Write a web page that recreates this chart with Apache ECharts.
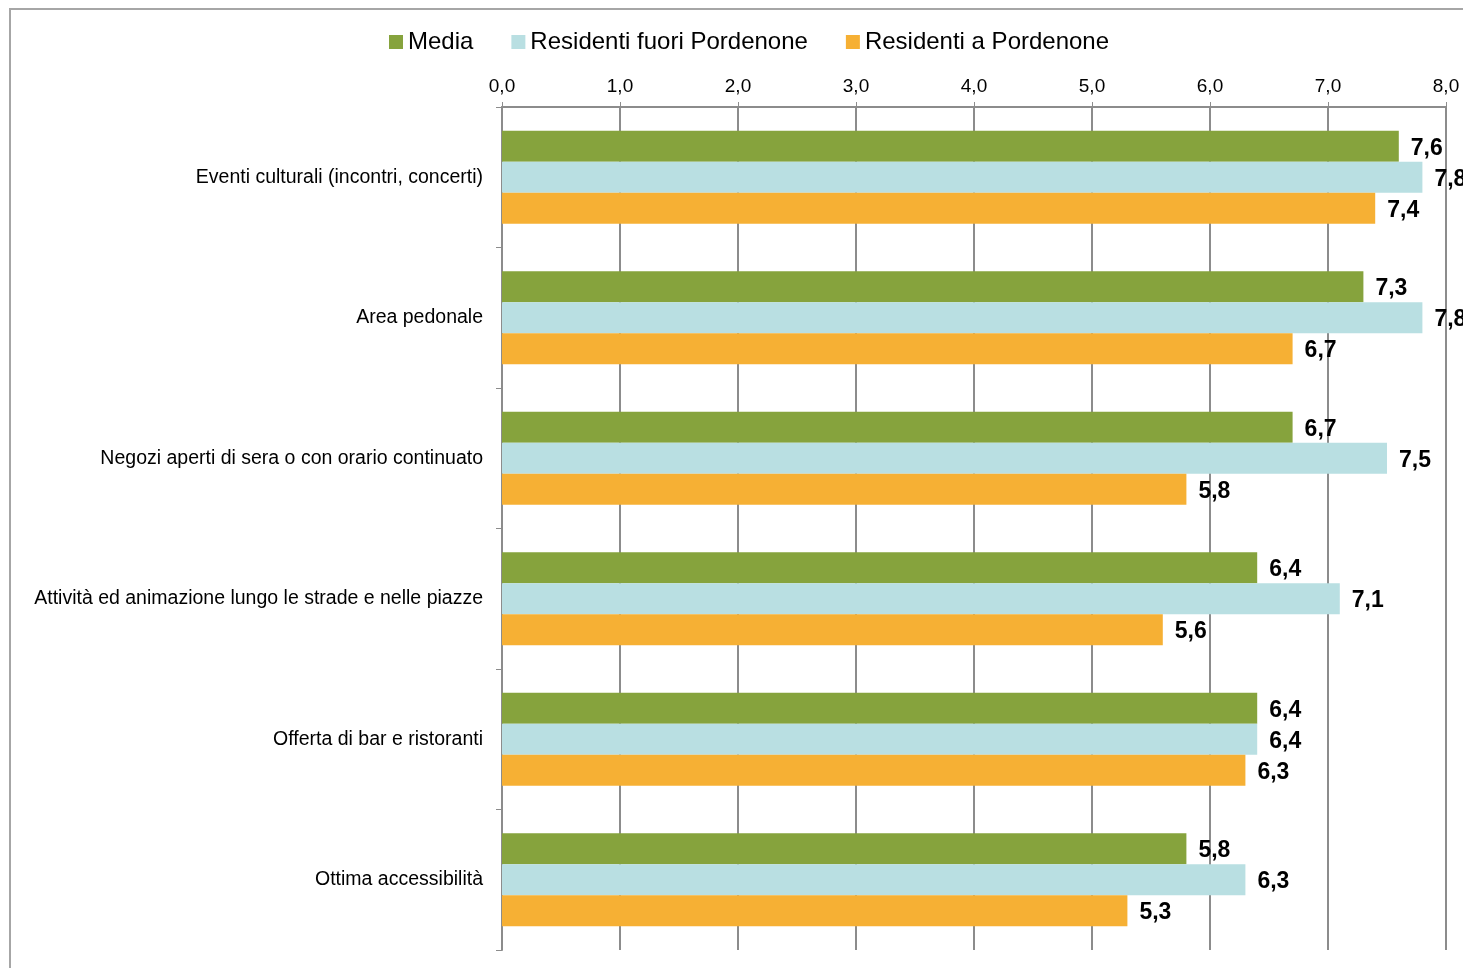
<!DOCTYPE html>
<html>
<head>
<meta charset="utf-8">
<script src="https://cdn.jsdelivr.net/npm/echarts@6/dist/echarts.min.js"></script>
<style>
  html, body { margin: 0; padding: 0; background: #fff; }
  #chart { width: 1463px; height: 968px; }
</style>
</head>
<body>
<div id="chart"></div>
<script>
// Categories, top to bottom
const categories = [
  'Eventi culturali (incontri, concerti)',
  'Area pedonale',
  'Negozi aperti di sera o con orario continuato',
  'Attività ed animazione lungo le strade e nelle piazze',
  'Offerta di bar e ristoranti',
  'Ottima accessibilità'
];

const seriesNames = ['Media', 'Residenti fuori Pordenone', 'Residenti a Pordenone'];

// Scores per category
const media = [7.6, 7.3, 6.7, 6.4, 6.4, 5.8];
const fuoriPordenone = [7.8, 7.8, 7.5, 7.1, 6.4, 6.3];
const aPordenone = [7.4, 6.7, 5.8, 5.6, 6.3, 5.3];

const colors = ['#86A33D', '#B9DFE2', '#F6B034'];

const fmt = v => Number(v).toFixed(1).replace('.', ',');
const FONT = '"Liberation Sans", Arial, sans-serif';

const chart = echarts.init(document.getElementById('chart'));

function barSeries(name, data, color) {
  return {
    name: name,
    type: 'bar',
    data: data,
    barWidth: 31,
    barGap: '0%',
    itemStyle: { color: color },
    label: {
      show: true,
      position: 'right',
      distance: 12,
      offset: [0, 2],
      formatter: p => fmt(p.value),
      fontFamily: FONT,
      fontSize: 23,
      fontWeight: 'bold',
      color: '#000'
    }
  };
}

chart.setOption({
  animation: false,
  textStyle: { fontFamily: FONT },
  graphic: [{
    type: 'rect',
    shape: { x: 10, y: 9, width: 1500, height: 1000 },
    style: { fill: 'none', stroke: '#a6a6a6', lineWidth: 2 },
    z: -1
  }],
  legend: {
    left: 384,
    top: 25,
    itemWidth: 14,
    itemHeight: 14,
    itemGap: 38,
    icon: 'rect',
    textStyle: { fontFamily: FONT, fontSize: 24, color: '#000', padding: [0, 0, 0, 0] },
    data: seriesNames
  },
  grid: {
    left: 502,
    right: 17,
    top: 107,
    bottom: 18,
    containLabel: false
  },
  xAxis: {
    type: 'value',
    position: 'top',
    min: 0,
    max: 8,
    interval: 1,
    axisLine: { show: true, lineStyle: { color: '#8c8c8c', width: 2 } },
    axisTick: { show: true, length: 5, lineStyle: { color: '#8c8c8c' } },
    splitLine: { show: true, lineStyle: { color: '#8c8c8c', width: 2 } },
    axisLabel: {
      formatter: v => fmt(v),
      fontFamily: FONT,
      fontSize: 19,
      color: '#000',
      margin: 11
    }
  },
  yAxis: {
    type: 'category',
    inverse: true,
    data: categories,
    axisLine: { show: true, lineStyle: { color: '#8c8c8c', width: 2 } },
    axisTick: { show: true, length: 6, alignWithLabel: false, lineStyle: { color: '#8c8c8c' } },
    axisLabel: {
      fontFamily: FONT,
      fontSize: 19.5,
      color: '#000',
      margin: 19,
      padding: [6, 0, 0, 0]
    }
  },
  series: [
    barSeries(seriesNames[0], media, colors[0]),
    barSeries(seriesNames[1], fuoriPordenone, colors[1]),
    barSeries(seriesNames[2], aPordenone, colors[2])
  ]
});
</script>
</body>
</html>
